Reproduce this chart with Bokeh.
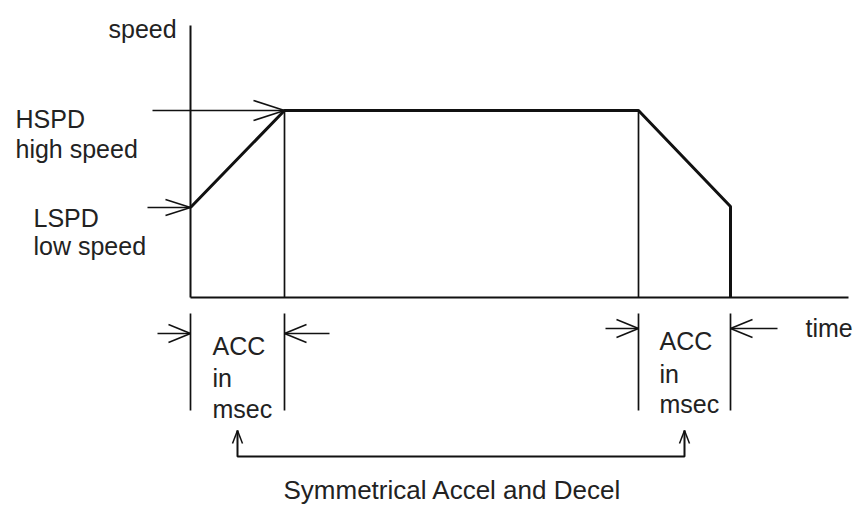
from bokeh.plotting import figure
from bokeh.models import Range1d
from bokeh.core.properties import value
from bokeh.embed import file_html
from bokeh.resources import INLINE

# ---- data (time in ms-like units, speed in arbitrary units) ----
profile_time = [0, 94, 448, 540, 540]
profile_speed = [90, 187, 187, 91, 0]
axis_time_max = 658
axis_speed_max = 272
hspd = 187
lspd = 90
acc_start = 0
acc_end = 94
dec_start = 448
dec_end = 540

speed_labels = ["HSPD", "high speed", "LSPD", "low speed"]
acc_labels = ["ACC", "in", "msec"]
axis_labels = ["speed", "time"]
caption = "Symmetrical Accel and Decel"

FONT = value("Liberation Sans")
FS = "25px"
TC = "#222222"
LC = "#111111"

p = figure(width=857, height=505, output_backend="svg", toolbar_location=None,
           x_range=Range1d(-190, 667), y_range=Range1d(-208, 297),
           min_border=0, outline_line_color=None,
           x_axis_location=None, y_axis_location=None)
p.grid.visible = False
p.background_fill_color = "white"
p.border_fill_color = "white"


def arrow_heads(tips, length, hw):
    """tips: list of (x, y, dx, dy) unit direction toward tip"""
    x0, y0, x1, y1 = [], [], [], []
    for (tx, ty, dx, dy) in tips:
        nx, ny = -dy, dx
        for s in (1, -1):
            x0.append(tx - dx * length + s * nx * hw)
            y0.append(ty - dy * length + s * ny * hw)
            x1.append(tx)
            y1.append(ty)
    return x0, y0, x1, y1


# axes
p.segment(x0=[0, 0], y0=[0, 0], x1=[0, axis_time_max], y1=[axis_speed_max, 0],
          line_color=LC, line_width=2)

# profile
p.line(profile_time, profile_speed, line_color=LC, line_width=3)

# thin verticals at end of accel / start of decel
p.segment(x0=[acc_end, dec_start], y0=[0, 0], x1=[acc_end, dec_start], y1=[hspd, hspd],
          line_color=LC, line_width=1.7)

# speed level arrows
p.segment(x0=[-38, -43], y0=[hspd, lspd], x1=[acc_end, 0], y1=[hspd, lspd],
          line_color=LC, line_width=1.5)
hx0, hy0, hx1, hy1 = arrow_heads([(acc_end, hspd, 1, 0)], 31, 10)
p.segment(x0=hx0, y0=hy0, x1=hx1, y1=hy1, line_color=LC, line_width=1.5)
hx0, hy0, hx1, hy1 = arrow_heads([(0, lspd, 1, 0)], 25, 8)
p.segment(x0=hx0, y0=hy0, x1=hx1, y1=hy1, line_color=LC, line_width=1.5)

# ACC markers below axis
marks = [acc_start, acc_end, dec_start, dec_end]
p.segment(x0=marks, y0=[-16] * 4, x1=marks, y1=[-113] * 4, line_color=LC, line_width=1.7)
ay_l, ay_r = -36, -31
p.segment(x0=[acc_start - 33, acc_end + 45, dec_start - 33, dec_end + 47],
          y0=[ay_l, ay_l, ay_r, ay_r],
          x1=[acc_start, acc_end, dec_start, dec_end],
          y1=[ay_l, ay_l, ay_r, ay_r], line_color=LC, line_width=1.5)
hx0, hy0, hx1, hy1 = arrow_heads([(acc_start, ay_l, 1, 0), (acc_end, ay_l, -1, 0),
                                  (dec_start, ay_r, 1, 0), (dec_end, ay_r, -1, 0)], 22, 9)
p.segment(x0=hx0, y0=hy0, x1=hx1, y1=hy1, line_color=LC, line_width=1.5)

# symmetric bracket
bl = (acc_start + acc_end) / 2
br = (dec_start + dec_end) / 2
p.line([bl, bl, br, br], [-133, -159, -159, -133], line_color=LC, line_width=2)
hx0, hy0, hx1, hy1 = arrow_heads([(bl, -133, 0, 1), (br, -133, 0, 1)], 13, 5)
p.segment(x0=hx0, y0=hy0, x1=hx1, y1=hy1, line_color=LC, line_width=1.5)

# texts
tx = [-82, -175, -175, -157, -157,
      22, 22, 22, 469, 469, 469,
      615]
ty = [269, 179, 149, 80, 52,
      -48, -80, -111, -43, -76, -106,
      -30]
tt = [axis_labels[0]] + speed_labels + acc_labels + acc_labels + [axis_labels[1]]
p.text(x=tx, y=ty, text=tt, text_font=FONT, text_font_size=FS,
       text_baseline="alphabetic", text_align="left", text_color=TC)
p.text(x=[93], y=[-192], text=[caption], text_font=FONT, text_font_size="26px",
       text_baseline="alphabetic", text_align="left", text_color=TC)

open("out.html", "w").write(file_html(p, INLINE))
